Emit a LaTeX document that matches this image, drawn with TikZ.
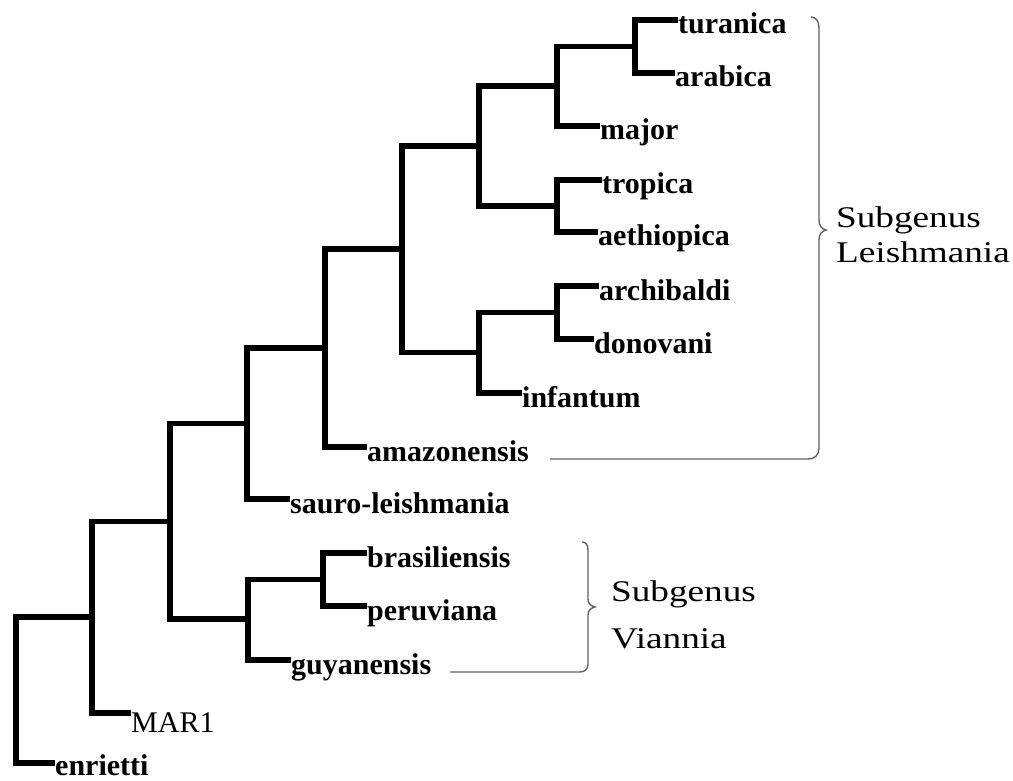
\documentclass[tikz,border=0pt]{standalone}
\usepackage{fontspec}
\setmainfont{Liberation Serif}
\newfontfamily\subfont{Liberation Serif}[FakeStretch=1.24]
\begin{document}
\begin{tikzpicture}[x=1pt,y=-1pt,
  branch/.style={line width=5.6pt,line join=miter},
  lab/.style={anchor=base west,inner sep=0pt,font=\fontsize{30}{30}\selectfont\bfseries},
  labreg/.style={anchor=base west,inner sep=0pt,font=\fontsize{30}{30}\selectfont},
  brace/.style={draw=black!62,line width=1.4pt},
  grp/.style={anchor=base west,inner sep=0pt,font=\subfont\fontsize{30}{30}\selectfont}]
\useasboundingbox (0,0) rectangle (1013,781);
% leaf line ends
\coordinate (tur) at (678,20);
\coordinate (ara) at (675,73);
\coordinate (maj) at (600,126);
\coordinate (tro) at (602,180);
\coordinate (aet) at (598,232);
\coordinate (arc) at (599,286);
\coordinate (don) at (594,339);
\coordinate (inf) at (522,393);
\coordinate (ama) at (367,447);
\coordinate (sau) at (290,499);
\coordinate (bra) at (367,553);
\coordinate (per) at (367,606);
\coordinate (guy) at (291,660);
\coordinate (mar) at (131,713);
\coordinate (enr) at (55,763);
% internal nodes
\coordinate (A) at (635,46.5);
\coordinate (B) at (557,86);
\coordinate (C) at (557,206);
\coordinate (D) at (479,146);
\coordinate (E) at (557,312.5);
\coordinate (F) at (479,352.5);
\coordinate (G) at (402,249);
\coordinate (H) at (325,348);
\coordinate (I) at (247,423.5);
\coordinate (J) at (323,579.5);
\coordinate (K) at (248,619);
\coordinate (L) at (170,521.5);
\coordinate (M) at (92,617);
\coordinate (N) at (16,690);
% labels
\node[lab] (turL) at ([yshift=-14pt]tur) {turanica};
\node[lab] (araL) at ([yshift=-14pt]ara) {arabica};
\node[lab] (majL) at ([yshift=-14pt]maj) {major};
\node[lab] (troL) at ([yshift=-14pt]tro) {tropica};
\node[lab] (aetL) at ([yshift=-14pt]aet) {aethiopica};
\node[lab] (arcL) at ([yshift=-14pt]arc) {archibaldi};
\node[lab] (donL) at ([yshift=-14pt]don) {donovani};
\node[lab] (infL) at ([yshift=-14pt]inf) {infantum};
\node[lab] (amaL) at ([yshift=-14pt]ama) {amazonensis};
\node[lab] (sauL) at ([yshift=-14pt]sau) {sauro-leishmania};
\node[lab] (braL) at ([yshift=-14pt]bra) {brasiliensis};
\node[lab] (perL) at ([yshift=-14pt]per) {peruviana};
\node[lab] (guyL) at ([yshift=-14pt]guy) {guyanensis};
\node[labreg] (marL) at ([yshift=-19pt]mar) {MAR1};
\node[lab] (enrL) at ([yshift=-12pt]enr) {enrietti};
% branches
\draw[branch] (A) |- (tur);
\draw[branch] (A) |- (ara);
\draw[branch] (B) |- (A);
\draw[branch] (B) |- (maj);
\draw[branch] (C) |- (tro);
\draw[branch] (C) |- (aet);
\draw[branch] (D) |- (B);
\draw[branch] (D) |- (C);
\draw[branch] (E) |- (arc);
\draw[branch] (E) |- (don);
\draw[branch] (F) |- (E);
\draw[branch] (F) |- (inf);
\draw[branch] (G) |- (D);
\draw[branch] (G) |- (F);
\draw[branch] (H) |- (G);
\draw[branch] (H) |- (ama);
\draw[branch] (I) |- (H);
\draw[branch] (I) |- (sau);
\draw[branch] (J) |- (bra);
\draw[branch] (J) |- (per);
\draw[branch] (K) |- (J);
\draw[branch] (K) |- (guy);
\draw[branch] (L) |- (I);
\draw[branch] (L) |- (K);
\draw[branch] (M) |- (L);
\draw[branch] (M) |- (mar);
\draw[branch] (N) |- (M);
\draw[branch] (N) |- (enr);
% braces
\draw[brace] (550,459) -- (808,459) .. controls (815,459) and (819,455) .. (819,448) -- (819,240) .. controls (819,234) and (822,231) .. (826,230) .. controls (822,229) and (819,226) .. (819,220) -- (819,28) .. controls (819,21) and (816,17) .. (811,17);
\draw[brace] (450,672) -- (580,672) .. controls (585,672) and (588,669) .. (588,664) -- (588,615) .. controls (588,610) and (591,608) .. (595,607) .. controls (591,606) and (588,604) .. (588,599) -- (588,550) .. controls (588,545) and (586,542) .. (582,542);
\node[grp] (sgL) at (836,227) {Subgenus};
\node[grp] (leL) at (836,262) {Leishmania};
\node[grp] (sgV) at (611,601) {Subgenus};
\node[grp] (viV) at (611,648) {Viannia};
\end{tikzpicture}
\end{document}
